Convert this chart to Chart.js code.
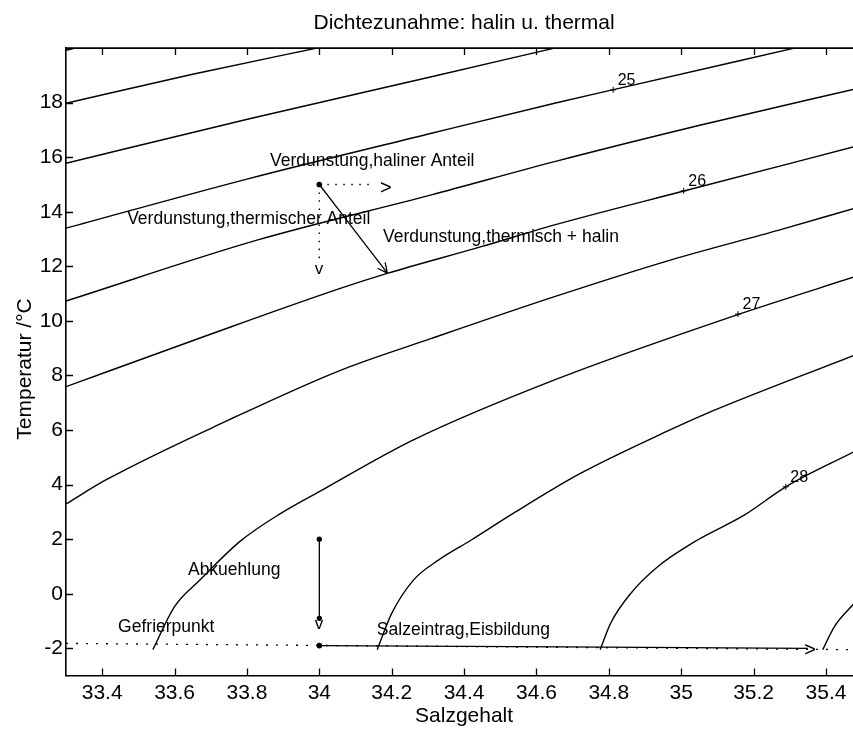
<!DOCTYPE html>
<html>
<head>
<meta charset="utf-8">
<title>Dichtezunahme: halin u. thermal</title>
<script src="https://cdn.jsdelivr.net/npm/chart.js@4.4.1/dist/chart.umd.min.js"></script>
<style>
  html, body { margin: 0; padding: 0; background: #fff; overflow: hidden; }
  #wrap { width: 853px; height: 730px; position: relative; }
</style>
</head>
<body>
<div id="wrap"><canvas id="chart"></canvas></div>
<script>
// axis ticks
const xTicks = [33.4, 33.6, 33.8, 34, 34.2, 34.4, 34.6, 34.8, 35, 35.2, 35.4];
const xTickLabels = ['33.4', '33.6', '33.8', '34', '34.2', '34.4', '34.6', '34.8', '35', '35.2', '35.4'];
const yTicks = [-2, 0, 2, 4, 6, 8, 10, 12, 14, 16, 18];
const yTickLabels = ['-2', '0', '2', '4', '6', '8', '10', '12', '14', '16', '18'];

// isopycnals (sigma-t), salinity / temperature
const s235 = [33.30, 33.36];
const t235 = [19.92, 20.10];
const s240 = [33.30, 33.65, 34.00];
const t240 = [17.98, 19.04, 20.02];
const s245 = [33.30, 33.81, 34.31, 34.65];
const t245 = [15.78, 17.42, 18.95, 20.00];
const s250 = [33.30, 33.80, 34.31, 34.65, 34.81, 35.31];
const t250 = [13.40, 15.20, 16.88, 17.98, 18.47, 19.99];
const s255 = [33.30, 33.83, 34.31, 34.65, 35.06, 35.48];
const t255 = [10.73, 12.97, 14.62, 15.84, 17.20, 18.50];
const s260 = [33.30, 33.68, 34.06, 34.19, 34.45, 34.65, 35.01, 35.48];
const t260 = [7.59, 9.42, 11.20, 11.75, 12.73, 13.52, 14.77, 16.39];
const s265 = [33.30, 33.41, 33.75, 34.06, 34.31, 34.65, 34.97, 35.27, 35.48];
const t265 = [3.29, 4.17, 6.37, 8.20, 9.36, 10.89, 12.23, 13.33, 14.13];
const s270 = [33.54, 33.60, 33.67, 33.78, 33.89, 34.01, 34.26, 34.65, 35.16, 35.48];
const t270 = [-2.05, -0.47, 0.50, 1.91, 2.92, 3.82, 5.64, 7.84, 10.25, 11.62];
const s275 = [34.16, 34.20, 34.26, 34.33, 34.42, 34.54, 34.72, 34.96, 35.06, 35.48];
const t275 = [-2.05, -0.72, 0.50, 1.24, 1.97, 2.98, 4.40, 5.95, 6.55, 8.75];
const s280 = [34.776, 34.805, 34.861, 34.935, 35.045, 35.174, 35.289, 35.478];
const t280 = [-2.05, -1.08, 0.02, 0.99, 1.97, 2.88, 3.92, 5.21];
const s285 = [35.391, 35.423, 35.478];
const t285 = [-2.05, -1.21, -0.35];

// contour labels
const labelText = ['25', '26', '27', '28'];
const labelS = [34.812, 35.007, 35.157, 35.289];
const labelT = [18.47, 14.77, 10.25, 3.92];

// arrows
const freezeS = [33.3, 35.4747];
const freezeT = [-1.82, -2.05];
const halinS = [34.0, 34.15];
const halinT = [15.0, 15.0];
const thermS = [34.0, 34.0];
const thermT = [15.0, 12.23];
const bothS = [34.0, 34.188];
const bothT = [15.0, 11.75];
const coolS = [34.0, 34.0];
const coolT = [2.0, -0.9];
const brineS = [34.0, 35.35];
const brineT = [-1.9, -2.0];

// arrow heads drawn as characters, like the original
const headText = ['>', 'v', 'v', '>'];
const headS = [34.184, 33.999, 33.999, 35.356];
const headT = [14.85, 11.90, -1.11, -2.08];

// annotations
const noteText = ['Verdunstung,haliner Anteil', 'Verdunstung,thermischer Anteil', 'Verdunstung,thermisch + halin',
                  'Abkuehlung', 'Gefrierpunkt', 'Salzeintrag,Eisbildung'];
const noteS = [33.864, 33.469, 34.176, 33.637, 33.444, 34.159];
const noteT = [15.86, 13.74, 13.06, 0.87, -1.22, -1.33];

const FONT = '"Liberation Sans", Arial, Helvetica, sans-serif';

const pts = (s, t) => s.map((v, i) => ({ x: v, y: t[i] }));

function line(s, t, extra) {
    return Object.assign({
        data: pts(s, t),
        showLine: true,
        borderColor: '#000',
        backgroundColor: '#000',
        borderWidth: 1.4,
        pointRadius: 0,
        cubicInterpolationMode: 'monotone',
        fill: false
    }, extra || {});
}

const contours = [[s235, t235], [s240, t240], [s245, t245], [s250, t250], [s255, t255], [s260, t260],
                  [s265, t265], [s270, t270], [s275, t275], [s280, t280], [s285, t285]];

const datasets = contours.map(c => line(c[0], c[1]));
datasets.push(line(freezeS, freezeT, { borderWidth: 1.3, borderDash: [2, 8] }));
datasets.push(line(halinS, halinT, { borderWidth: 1.3, borderDash: [1.5, 6.5] }));
datasets.push(line(thermS, thermT, { borderWidth: 1.3, borderDash: [1.5, 6.5] }));
datasets.push(line(bothS, bothT, { borderWidth: 1.3, pointRadius: [2.2, 0] }));
datasets.push(line(coolS, coolT, { borderWidth: 1.3, pointRadius: [2, 2] }));
datasets.push(line(brineS, brineT, { borderWidth: 1.3, pointRadius: [2.2, 0] }));
datasets.push({
    data: pts(labelS, labelT),
    showLine: false,
    pointStyle: 'cross',
    pointRadius: 3,
    borderColor: '#000',
    borderWidth: 1
});

const decorations = {
    id: 'decorations',
    afterDatasetsDraw(chart) {
        const { ctx, chartArea: a, scales: { x, y } } = chart;
        ctx.save();
        ctx.strokeStyle = '#000';
        ctx.fillStyle = '#000';

        // top frame line
        ctx.lineWidth = 1.6;
        ctx.beginPath();
        ctx.moveTo(a.left, a.top);
        ctx.lineTo(a.right, a.top);
        ctx.stroke();

        // inward ticks
        ctx.lineWidth = 1.3;
        ctx.beginPath();
        xTicks.forEach(v => {
            const px = Math.round(x.getPixelForValue(v)) + 0.5;
            ctx.moveTo(px, a.bottom);
            ctx.lineTo(px, a.bottom - 7);
            ctx.moveTo(px, a.top);
            ctx.lineTo(px, a.top + 7);
        });
        yTicks.forEach(v => {
            const py = Math.round(y.getPixelForValue(v)) + 0.5;
            ctx.moveTo(a.left, py);
            ctx.lineTo(a.left + 7, py);
        });
        ctx.stroke();

        // head of the diagonal arrow
        const x0 = x.getPixelForValue(bothS[0]), y0 = y.getPixelForValue(bothT[0]);
        const x1 = x.getPixelForValue(bothS[1]), y1 = y.getPixelForValue(bothT[1]);
        const ang = Math.atan2(y1 - y0, x1 - x0);
        ctx.beginPath();
        [0.45, -0.45].forEach(d => {
            ctx.moveTo(x1, y1);
            ctx.lineTo(x1 - 11 * Math.cos(ang + d), y1 - 11 * Math.sin(ang + d));
        });
        ctx.stroke();

        ctx.textBaseline = 'middle';

        // arrow heads as characters
        ctx.textAlign = 'center';
        headText.forEach((txt, i) => {
            ctx.font = (txt === '>' ? '20px ' : '17px ') + FONT;
            ctx.fillText(txt, x.getPixelForValue(headS[i]), y.getPixelForValue(headT[i]));
        });

        // annotations
        ctx.textAlign = 'left';
        ctx.font = '17.5px ' + FONT;
        noteText.forEach((txt, i) => {
            ctx.fillText(txt, x.getPixelForValue(noteS[i]), y.getPixelForValue(noteT[i]));
        });

        // contour labels
        ctx.font = '16px ' + FONT;
        labelText.forEach((txt, i) => {
            ctx.fillText(txt, x.getPixelForValue(labelS[i]) + 4.5, y.getPixelForValue(labelT[i]) - 9.5);
        });

        // title and axis titles, centred on the full plot box (33.3 .. 35.5)
        const midX = (a.left + x.getPixelForValue(35.5)) / 2;
        ctx.textAlign = 'center';
        ctx.font = '21px ' + FONT;
        ctx.fillText('Dichtezunahme: halin u. thermal', midX, 23);
        ctx.fillText('Salzgehalt', midX, 716);
        ctx.translate(25, 369);
        ctx.rotate(-Math.PI / 2);
        ctx.fillText('Temperatur /°C', 0, 0);
        ctx.restore();
    }
};

new Chart(document.getElementById('chart'), {
    type: 'scatter',
    data: { datasets: datasets },
    options: {
        responsive: true,
        maintainAspectRatio: false,
        animation: false,
        layout: { autoPadding: false, padding: { top: 48.1, left: 0, right: 0, bottom: 0 } },
        plugins: {
            legend: { display: false },
            tooltip: { enabled: false }
        },
        scales: {
            x: {
                type: 'linear',
                min: 33.3,
                max: 35.4747,
                afterBuildTicks: s => { s.ticks = xTicks.map(v => ({ value: v })); },
                afterFit: s => {
                    s.height = 54.4;
                    s.paddingLeft = 0;
                    s.paddingRight = 0;
                },
                grid: { display: false, drawTicks: false },
                border: { display: true, color: '#000', width: 1.6 },
                ticks: {
                    callback: (v, i) => xTickLabels[i],
                    color: '#000',
                    font: { family: FONT, size: 21 },
                    padding: 5,
                    maxRotation: 0,
                    autoSkip: false
                }
            },
            y: {
                type: 'linear',
                min: -3,
                max: 20,
                afterBuildTicks: s => { s.ticks = yTicks.map(v => ({ value: v })); },
                afterFit: s => {
                    s.width = 66;
                    s.paddingTop = 0;
                    s.paddingBottom = 0;
                },
                grid: { display: false, drawTicks: false },
                border: { display: true, color: '#000', width: 1.6 },
                ticks: {
                    callback: (v, i) => yTickLabels[i],
                    color: '#000',
                    font: { family: FONT, size: 21 },
                    padding: 3,
                    autoSkip: false
                }
            }
        }
    },
    plugins: [decorations]
});
</script>
</body>
</html>
